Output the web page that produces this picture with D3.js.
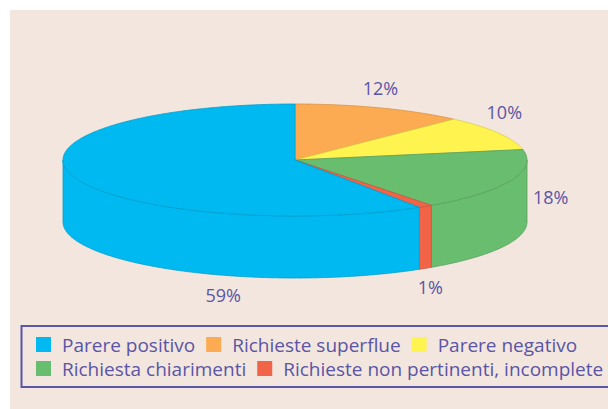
<!DOCTYPE html>
<html>
<head>
<meta charset="utf-8">
<script src="https://cdn.jsdelivr.net/npm/d3@7"></script>
<style>body{margin:0;background:#fff}</style>
</head>
<body>
<div id="chart"></div>
<script>
  // slices, clockwise from 12 o'clock
  const categories = ["Richieste superflue", "Parere negativo", "Richiesta chiarimenti", "Richieste non pertinenti, incomplete", "Parere positivo"]
  const values = [12, 10, 18, 1, 59]
  const labels = ["12%", "10%", "18%", "1%", "59%"]
  const colors = ["#fcab52", "#fff350", "#68bd6e", "#f26448", "#00b9f1"]
  const legendRows = [
    ["Parere positivo", "Richieste superflue", "Parere negativo"],
    ["Richiesta chiarimenti", "Richieste non pertinenti, incomplete"]
  ]

  const width = 608, height = 409
  const textColor = "#5a55a5"
  const font = "'Open Sans', sans-serif"

  const svg = d3.select("#chart")
    .append("svg")
    .attr("width", width)
    .attr("height", height)

  svg.append("rect")
    .attr("x", 10).attr("y", 10)
    .attr("width", width - 10).attr("height", height - 10)
    .attr("fill", "#f3e6de")

  const color = d3.scaleOrdinal(categories, colors)

  // 3d pie geometry
  const cx = 295, cy = 160, rx = 232, ry = 56, depth = 62
  const pt = (a, dz) => [cx + rx * Math.sin(a), cy - ry * Math.cos(a) + dz]
  const samples = (a0, a1) => {
    const n = Math.max(2, Math.ceil(Math.abs(a1 - a0) / 0.01))
    return d3.range(n + 1).map(i => a0 + (a1 - a0) * i / n)
  }
  const line = d3.line()

  const pie = d3.pie().sort(null).value(d => d)
  const arcs = pie(values)

  const topPath = d => line([[cx, cy], ...samples(d.startAngle, d.endAngle).map(a => pt(a, 0))]) + "Z"
  const sidePath = d => {
    const a0 = Math.max(d.startAngle, Math.PI / 2)
    const a1 = Math.min(d.endAngle, 3 * Math.PI / 2)
    if (a1 <= a0) return null
    const s = samples(a0, a1)
    return line([...s.map(a => pt(a, 0)), ...s.reverse().map(a => pt(a, depth))]) + "Z"
  }

  const pieG = svg.append("g")

  pieG.selectAll("path.side")
    .data(arcs.filter(d => sidePath(d)))
    .join("path")
    .attr("class", "side")
    .attr("d", sidePath)
    .attr("fill", d => color(categories[d.index]))
    .attr("stroke", d => d3.color(color(categories[d.index])).darker(0.45))
    .attr("stroke-width", 0.8)

  pieG.selectAll("path.top")
    .data(arcs)
    .join("path")
    .attr("class", "top")
    .attr("d", topPath)
    .attr("fill", d => color(categories[d.index]))
    .attr("stroke", d => d3.color(color(categories[d.index])).darker(0.45))
    .attr("stroke-width", 0.8)

  // percentage labels: anchored at slice mid-angle on the top rim, hand nudged like the original
  const labelNudge = [[0, -19], [6, -20], [40, 17], [5, 81], [151, 120]]
  svg.append("g")
    .attr("font-family", font)
    .attr("font-size", 18)
    .attr("fill", textColor)
    .attr("text-anchor", "middle")
    .selectAll("text")
    .data(arcs)
    .join("text")
    .attr("x", d => pt((d.startAngle + d.endAngle) / 2, 0)[0] + labelNudge[d.index][0])
    .attr("y", d => pt((d.startAngle + d.endAngle) / 2, 0)[1] + labelNudge[d.index][1])
    .attr("dy", "0.35em")
    .text(d => labels[d.index])

  // legend (box runs off the right edge, as in the original)
  svg.append("rect")
    .attr("x", 21.5).attr("y", 326)
    .attr("width", 640).attr("height", 61)
    .attr("fill", "none")
    .attr("stroke", textColor)
    .attr("stroke-width", 2)

  const legend = svg.append("g")
    .attr("font-family", font)
    .attr("font-size", 19)
    .attr("fill", textColor)

  legendRows.forEach((row, r) => {
    let x = 36
    const y = 337 + r * 24
    row.forEach(name => {
      legend.append("rect")
        .attr("x", x).attr("y", y)
        .attr("width", 15).attr("height", 15)
        .attr("fill", color(name))
      const t = legend.append("text")
        .attr("x", x + 26)
        .attr("y", y + 15)
        .text(name)
      x += 26 + t.node().getComputedTextLength() + 11
    })
  })
</script>
</body>
</html>
